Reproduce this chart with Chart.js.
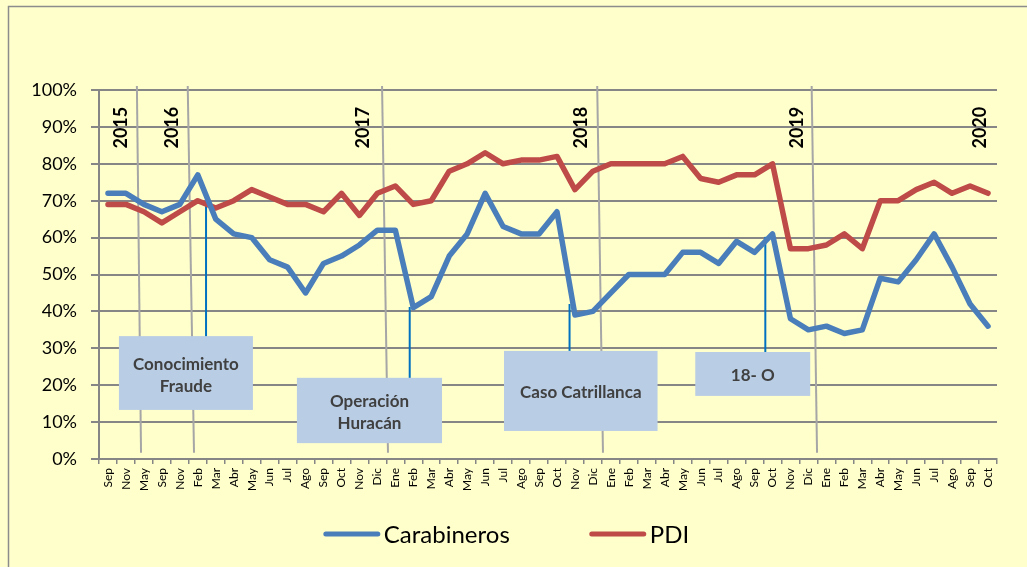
<!DOCTYPE html>
<html>
<head>
<meta charset="utf-8">
<script src="https://cdn.jsdelivr.net/npm/chart.js@4.4.4/dist/chart.umd.min.js"></script>
<style>
  html, body { margin: 0; padding: 0; background: #ffffcc; }
  #wrap { width: 1027px; height: 567px; }
</style>
</head>
<body>
<div id="wrap"><canvas id="chart" width="1027" height="567"></canvas></div>
<script>
const months = [
    'Sep', 'Nov', 'May', 'Sep', 'Nov', 'Feb', 'Mar', 'Abr', 'May', 'Jun', 'Jul', 'Ago', 'Sep', 'Oct', 'Nov', 'Dic',
    'Ene', 'Feb', 'Mar', 'Abr', 'May', 'Jun', 'Jul', 'Ago', 'Sep', 'Oct', 'Nov', 'Dic',
    'Ene', 'Feb', 'Mar', 'Abr', 'May', 'Jun', 'Jul', 'Ago', 'Sep', 'Oct', 'Nov', 'Dic',
    'Ene', 'Feb', 'Mar', 'Abr', 'May', 'Jun', 'Jul', 'Ago', 'Sep', 'Oct'
];

const carabineros = [
    72, 72, 69, 67, 69, 77, 65, 61, 60, 54, 52, 45, 53, 55, 58, 62,
    62, 41, 44, 55, 61, 72, 63, 61, 61, 67, 39, 40,
    45, 50, 50, 50, 56, 56, 53, 59, 56, 61, 38, 35,
    36, 34, 35, 49, 48, 54, 61, 52, 42, 36
];

const pdi = [
    69, 69, 67, 64, 67, 70, 68, 70, 73, 71, 69, 69, 67, 72, 66, 72,
    74, 69, 70, 78, 80, 83, 80, 81, 81, 82, 73, 78,
    80, 80, 80, 80, 82, 76, 75, 77, 77, 80, 57, 57,
    58, 61, 57, 70, 70, 73, 75, 72, 74, 72
];

const years = ['2015', '2016', '2017', '2018', '2019', '2020'];

// annotation layout, in category index / percent units
const yearLabelAt = [0.67, 3.54, 14.14, 26.3, 38.3, 48.5];
const yearLines = [[1.61, 1.84], [4.44, 4.79], [15.26, 15.59], [27.24, 27.56], [39.18, 39.48]];
const events = [
    { text: ['Conocimiento', 'Fraude'], x0: 0.61, x1: 8.07, top: 33.3, bottom: 13.3, at: 5.46, from: 69.1 },
    { text: ['Operación', 'Huracán'], x0: 10.52, x1: 18.6, top: 22.0, bottom: 4.3, at: 16.8, from: 41.2 },
    { text: ['Caso Catrillanca'], x0: 22.05, x1: 30.6, top: 29.3, bottom: 7.6, at: 25.7, from: 42 },
    { text: ['18- O'], x0: 32.7, x1: 39.1, top: 29.0, bottom: 17.1, at: 36.6, from: 60.2 }
];

const FONT = 'Lato, "Open Sans", sans-serif';
Chart.defaults.font.family = FONT;
Chart.defaults.color = '#000';

const background = {
    id: 'background',
    beforeDraw(chart) {
        const ctx = chart.ctx;
        ctx.save();
        ctx.fillStyle = '#ffffcc';
        ctx.fillRect(0, 0, chart.width, chart.height);
        ctx.strokeStyle = '#8c8c8c';
        ctx.lineWidth = 1.5;
        ctx.strokeRect(8.5, 6.5, chart.width + 20, chart.height + 20);
        ctx.restore();
    }
};

const annotations = {
    id: 'annotations',
    beforeDatasetsDraw(chart) {
        const ctx = chart.ctx;
        const x = chart.scales.x;
        const y = chart.scales.y;
        ctx.save();

        // year separators
        ctx.strokeStyle = '#a6a6a6';
        ctx.lineWidth = 2;
        yearLines.forEach(([a, b]) => {
            ctx.beginPath();
            ctx.moveTo(x.getPixelForValue(a), y.getPixelForValue(101.1));
            ctx.lineTo(x.getPixelForValue(b), y.getPixelForValue(1.7));
            ctx.stroke();
        });

        // year labels
        ctx.fillStyle = '#000';
        ctx.font = 'bold 18px ' + FONT;
        ctx.textAlign = 'center';
        ctx.textBaseline = 'middle';
        years.forEach((label, i) => {
            ctx.save();
            ctx.translate(x.getPixelForValue(yearLabelAt[i]), y.getPixelForValue(89.8));
            ctx.rotate(-Math.PI / 2);
            ctx.fillText(label, 0, 1);
            ctx.restore();
        });

        // event boxes
        events.forEach(ev => {
            const left = x.getPixelForValue(ev.x0);
            const right = x.getPixelForValue(ev.x1);
            const top = y.getPixelForValue(ev.top);
            const bottom = y.getPixelForValue(ev.bottom);
            ctx.fillStyle = '#b9cde5';
            ctx.fillRect(left, top, right - left, bottom - top);

            ctx.fillStyle = '#404040';
            ctx.font = 'bold 17px ' + FONT;
            const cx = (left + right) / 2;
            const cy = (top + bottom) / 2 + 2;
            const lh = 22;
            ev.text.forEach((line, k) => {
                ctx.fillText(line, cx, cy + (k - (ev.text.length - 1) / 2) * lh);
            });

            ctx.strokeStyle = '#0070c0';
            ctx.lineWidth = 2;
            const cxl = x.getPixelForValue(ev.at);
            ctx.beginPath();
            ctx.moveTo(cxl, y.getPixelForValue(ev.from));
            ctx.lineTo(cxl, top);
            ctx.stroke();
        });

        ctx.restore();
    }
};

const lineLegend = {
    id: 'lineLegend',
    afterDraw(chart) {
        const ctx = chart.ctx;
        const sets = chart.data.datasets;
        const lineW = 56, gap = 4, itemGap = 80;
        ctx.save();
        ctx.font = '24px ' + FONT;
        ctx.textBaseline = 'middle';
        ctx.textAlign = 'left';
        const widths = sets.map(ds => lineW + gap + ctx.measureText(ds.label).width);
        const total = widths.reduce((s, w) => s + w, 0) + itemGap * (sets.length - 1);
        let xPos = chart.width / 2 - 7 - total / 2;
        const yPos = 534;
        sets.forEach((ds, i) => {
            ctx.strokeStyle = ds.borderColor;
            ctx.lineWidth = 5;
            ctx.lineCap = 'round';
            ctx.beginPath();
            ctx.moveTo(xPos + 2, yPos);
            ctx.lineTo(xPos + lineW - 2, yPos);
            ctx.stroke();
            ctx.fillStyle = '#000';
            ctx.fillText(ds.label, xPos + lineW + gap, yPos + 1);
            xPos += widths[i] + itemGap;
        });
        ctx.restore();
    }
};

new Chart(document.getElementById('chart'), {
    type: 'line',
    data: {
        labels: months,
        datasets: [
            {
                label: 'Carabineros',
                data: carabineros,
                borderColor: '#4a7ebb',
                borderWidth: 5.5,
                pointRadius: 0,
                borderJoinStyle: 'round',
                borderCapStyle: 'round',
                tension: 0
            },
            {
                label: 'PDI',
                data: pdi,
                borderColor: '#be4b48',
                borderWidth: 5.5,
                pointRadius: 0,
                borderJoinStyle: 'round',
                borderCapStyle: 'round',
                tension: 0
            }
        ]
    },
    options: {
        responsive: false,
        animation: false,
        layout: { padding: { top: 90, right: 30, left: 0, bottom: 0 } },
        plugins: {
            legend: { display: false },
            tooltip: { enabled: false }
        },
        scales: {
            x: {
                offset: true,
                afterFit(scale) { scale.height = 108; },
                grid: {
                    offset: true,
                    drawOnChartArea: false,
                    drawTicks: true,
                    tickLength: 5,
                    color: '#868686',
                    lineWidth: 1.5
                },
                border: { display: true, color: '#868686', width: 2 },
                ticks: {
                    autoSkip: false,
                    minRotation: 90,
                    maxRotation: 90,
                    padding: 4,
                    font: { size: 12 },
                    color: '#000'
                }
            },
            y: {
                min: 0,
                max: 100,
                afterFit(scale) { scale.width = 99; },
                grid: {
                    color: '#868686',
                    lineWidth: 2,
                    tickLength: 8
                },
                border: { display: true, color: '#868686', width: 2 },
                ticks: {
                    stepSize: 10,
                    padding: 14,
                    font: { size: 18 },
                    color: '#000',
                    callback: v => v + '%'
                }
            }
        }
    },
    plugins: [background, annotations, lineLegend]
});
</script>
</body>
</html>
